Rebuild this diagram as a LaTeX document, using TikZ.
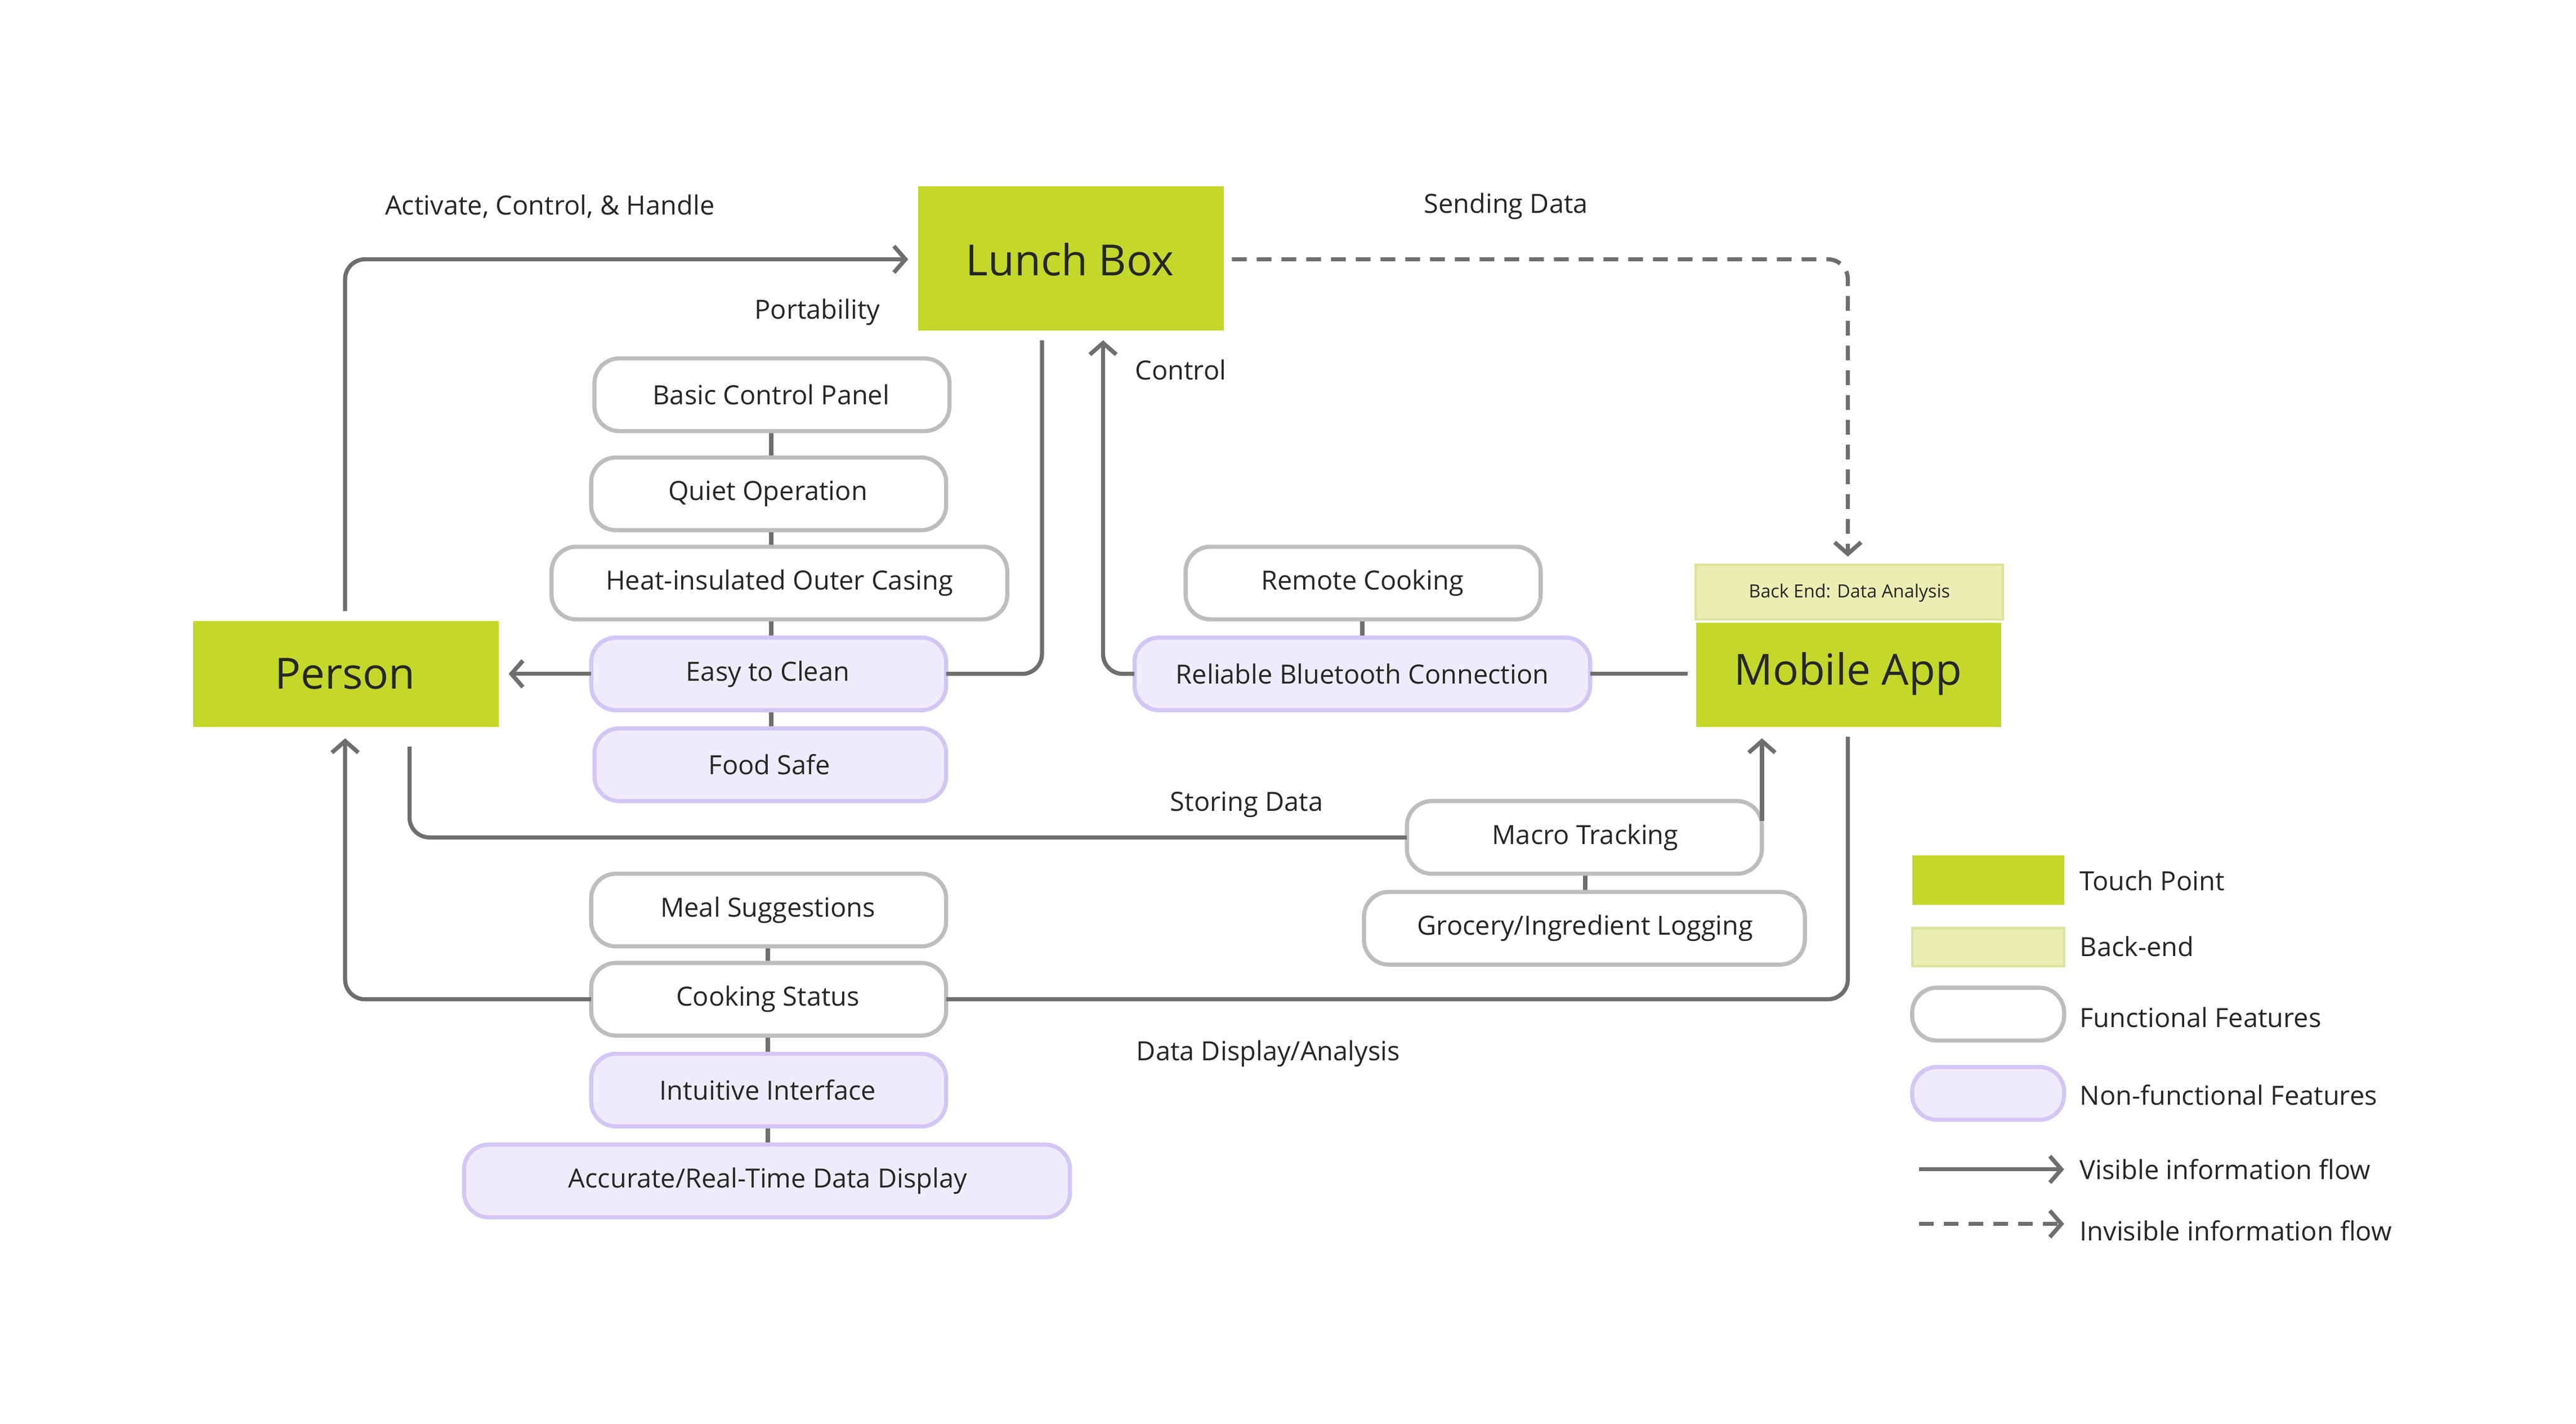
\documentclass[tikz,border=0pt]{standalone}
\usepackage{fontspec}
\setmainfont{Open Sans}
\usetikzlibrary{arrows.meta}
\definecolor{tp}{HTML}{C5D72A}
\definecolor{be}{HTML}{EBEEB3}
\definecolor{bebd}{HTML}{DCE29A}
\definecolor{nf}{HTML}{EFEBFC}
\definecolor{nfbd}{HTML}{D3C6F5}
\definecolor{fbd}{HTML}{BDBDBD}
\definecolor{ln}{HTML}{6E6E6E}
\begin{document}
\begin{tikzpicture}[x=1pt,y=-1pt,
 touch/.style={fill=tp,draw=none,font=\fontsize{26}{30}\selectfont,text=black!85},
 func/.style={draw=fbd,line width=2.5pt,fill=white,rounded corners=15pt,font=\fontsize{16}{19}\selectfont,text=black!85},
 nonf/.style={func,draw=nfbd,fill=nf},
 flow/.style={draw=ln,line width=2.5pt,rounded corners=12pt},
 arr/.style={flow,-{Straight Barb[length=7pt,width=16pt,line width=2.5pt]}},
 invis/.style={dash pattern=on 9pt off 6pt},
 lbl/.style={font=\fontsize{16}{19}\selectfont,text=black!85}]
\useasboundingbox (0,0) rectangle (1560,862);
% touch points
\path[touch] (556,113) rectangle (741,200); \node[touch,fill=none] (lb) at (648,157) {Lunch Box};
\path[touch] (117,376) rectangle (302,440); \node[touch,fill=none] (pe) at (209,408) {Person};
\path[fill=be,draw=bebd,line width=1.5pt] (1027,342) rectangle (1213,375);
\node[font=\fontsize{11}{13}\selectfont,text=black!85] (bk) at (1120,359) {Back End: Data Analysis};
\path[touch] (1027,377) rectangle (1212,440); \node[touch,fill=none] (ma) at (1119,408) {Mobile App};
% vertical links
\foreach \x/\a/\b in {467/261/277,467/321/331,467/375/386,467/430/441,825/375/386,960/529/540,465/573/583,465/627/638,465/682/693}
 \draw[draw=ln,line width=2.5pt] (\x,\a) -- (\x,\b);
% features
\path[func] (360,217) rectangle (575,261); \node[lbl] (bcp) at (467,239) {Basic Control Panel};
\path[func] (358,277) rectangle (573,321); \node[lbl] (qo) at (465,299) {Quiet Operation};
\path[func] (334,331) rectangle (610,375); \node[lbl] (hic) at (472,353) {Heat-insulated Outer Casing};
\path[nonf] (358,386) rectangle (573,430); \node[lbl] (etc) at (465,408) {Easy to Clean};
\path[nonf] (360,441) rectangle (573,485); \node[lbl] (fs) at (466,463) {Food Safe};
\path[func] (718,331) rectangle (933,375); \node[lbl] (rc) at (825,353) {Remote Cooking};
\path[nonf] (687,386) rectangle (963,430); \node[lbl] (rbc) at (825,408) {Reliable Bluetooth Connection};
\path[func] (852,485) rectangle (1067,529); \node[lbl] (mt) at (960,507) {Macro Tracking};
\path[func] (826,540) rectangle (1093,584); \node[lbl] (gil) at (960,562) {Grocery/Ingredient Logging};
\path[func] (358,529) rectangle (573,573); \node[lbl] (ms) at (465,551) {Meal Suggestions};
\path[func] (358,583) rectangle (573,627); \node[lbl] (cs) at (465,605) {Cooking Status};
\path[nonf] (358,638) rectangle (573,682); \node[lbl] (ii) at (465,660) {Intuitive Interface};
\path[nonf] (281,693) rectangle (648,737); \node[lbl] (ard) at (465,715) {Accurate/Real-Time Data Display};
% connectors
\draw[arr] (209,370) -- (209,157) -- (550,157);
\node[lbl] (l1) at (333,125) {Activate, Control, \& Handle};
\draw[arr,invis] (746,157) -- (1119,157) -- (1119,337);
\node[lbl] (l2) at (912,125) {Sending Data};
\draw[flow] (631,206) -- (631,408) -- (573,408);
\node[lbl] (l3) at (495,189) {Portability};
\draw[arr] (358,408) -- (308,408);
\draw[arr] (687,408) -- (668,408) -- (668,206);
\node[lbl] (l4) at (715,224) {Control};
\draw[flow] (1022,408) -- (963,408);
\draw[flow] (852,507) -- (248,507) -- (248,452);
\node[lbl] (l5) at (755,487) {Storing Data};
\draw[arr] (1067,497) -- (1067,447);
\draw[flow] (1119,446) -- (1119,605) -- (573,605);
\draw[arr] (358,605) -- (209,605) -- (209,447);
\node[lbl] (l6) at (768,638) {Data Display/Analysis};
% legend
\path[fill=tp] (1158,518) rectangle (1250,548);
\path[fill=be,draw=bebd,line width=1.5pt] (1158,562) rectangle (1250,585);
\path[func] (1158,598) rectangle (1250,630);
\path[nonf] (1158,646) rectangle (1250,678);
\node[lbl,anchor=west] (g1) at (1256,533) {Touch Point};
\node[lbl,anchor=west] (g2) at (1256,573) {Back-end};
\node[lbl,anchor=west] (g3) at (1256,616) {Functional Features};
\node[lbl,anchor=west] (g4) at (1256,663) {Non-functional Features};
\draw[arr] (1162,708) -- (1250,708);
\draw[arr,invis] (1162,741) -- (1250,741);
\node[lbl,anchor=west] (g5) at (1256,708) {Visible information flow};
\node[lbl,anchor=west] (g6) at (1256,745) {Invisible information flow};
\end{tikzpicture}
\end{document}
